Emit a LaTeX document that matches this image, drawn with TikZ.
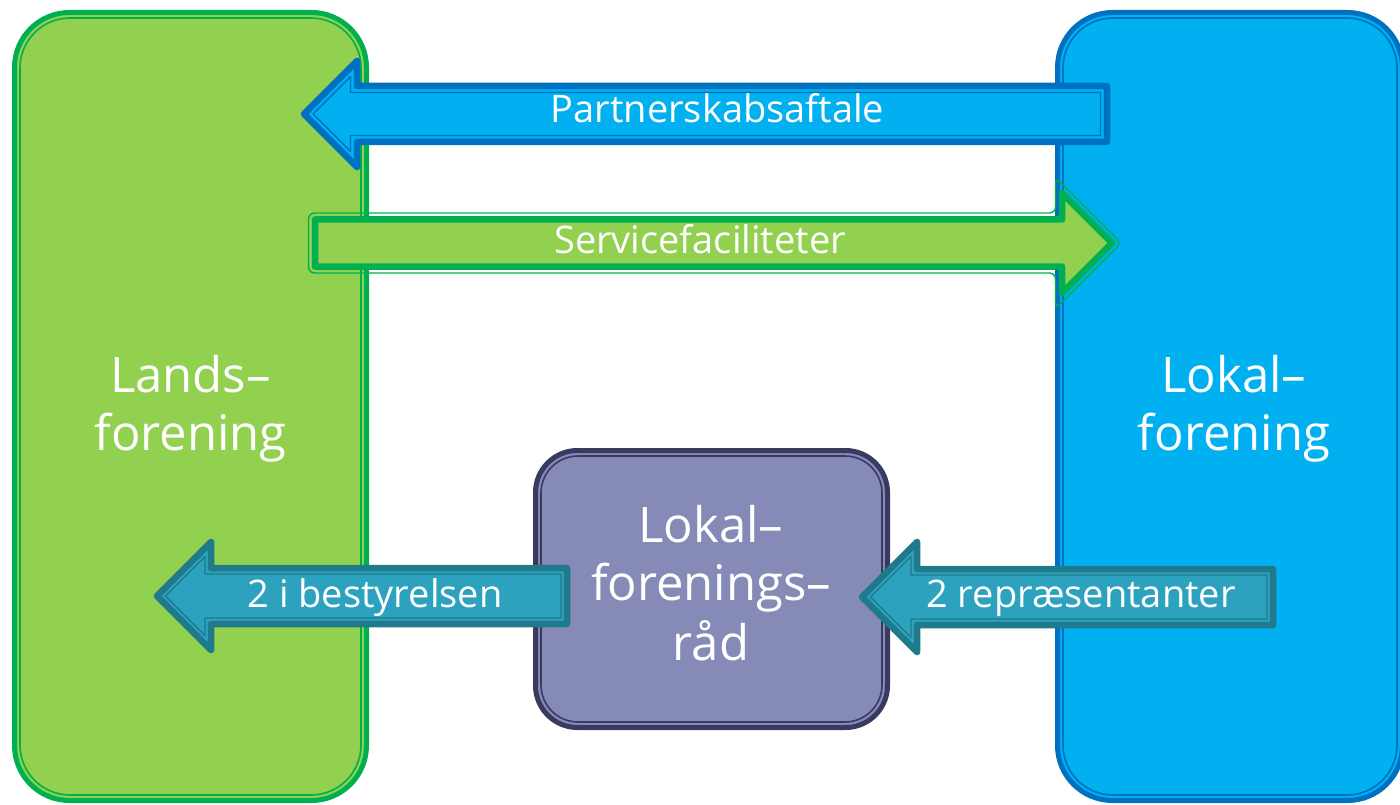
\documentclass[tikz,border=0pt]{standalone}
\usepackage{fontspec}
\setmainfont{Open Sans}
\definecolor{lgreen}{HTML}{92D050}
\definecolor{dgreen}{HTML}{00B050}
\definecolor{lblue}{HTML}{00B0F0}
\definecolor{dblue}{HTML}{0070C0}
\definecolor{lpurple}{HTML}{868AB7}
\definecolor{dpurple}{HTML}{383A60}
\definecolor{lteal}{HTML}{2DA2BF}
\definecolor{dteal}{HTML}{1F7A8C}
% left-pointing block arrow: style, tip x, head-back x, end x, centre y, shaft half height, inset
\newcommand{\LArr}[7]{%
\path[#1] ({#2+(#7)*1.41421},#5) -- ({#3-(#7)},{#5-(#3-#2)+(#7)*2.41421}) -- ({#3-(#7)},{#5-#6+(#7)}) -- ({#4-(#7)},{#5-#6+(#7)}) -- ({#4-(#7)},{#5+#6-(#7)}) -- ({#3-(#7)},{#5+#6-(#7)}) -- ({#3-(#7)},{#5+(#3-#2)-(#7)*2.41421}) -- cycle;}
% right-pointing block arrow: style, tip x, head-back x, start x, centre y, shaft half height, inset
\newcommand{\RArr}[7]{%
\path[#1] ({#2-(#7)*1.41421},#5) -- ({#3+(#7)},{#5-(#2-#3)+(#7)*2.41421}) -- ({#3+(#7)},{#5-#6+(#7)}) -- ({#4+(#7)},{#5-#6+(#7)}) -- ({#4+(#7)},{#5+#6-(#7)}) -- ({#3+(#7)},{#5+#6-(#7)}) -- ({#3+(#7)},{#5+(#2-#3)-(#7)*2.41421}) -- cycle;}
\begin{document}
\begin{tikzpicture}[x=1pt,y=-1pt,
  box/.style={rectangle, rounded corners=#1, line width=5pt, inner sep=0pt, outer sep=0pt},
  bigtxt/.style={text=white, anchor=base, inner sep=0pt, font=\fontsize{49}{58}\selectfont},
  lbl/.style={text=white, anchor=base, inner sep=0pt, font=\fontsize{38}{44}\selectfont},
  thickarr/.style={line width=6.5pt, line join=round},
  thinarr/.style={line width=1.4pt, line join=round}]
\useasboundingbox (0,0) rectangle (1400,805);
\fill[white] (0,0) rectangle (1400,805);
% boxes
\node[box=55pt, fill=lgreen, draw=dgreen, minimum width=352pt, minimum height=788pt] (lands) at (190.5,406.5) {};
\draw[dgreen, line width=1.6pt, rounded corners=50pt] ([shift={(5.5,5.5)}]lands.north west) rectangle ([shift={(-5.5,-5.5)}]lands.south east);
\node[box=55pt, fill=lblue, draw=dblue, minimum width=345pt, minimum height=788pt] (lokal) at (1230,406.5) {};
\draw[dblue, line width=1.6pt, rounded corners=50pt] ([shift={(5.5,5.5)}]lokal.north west) rectangle ([shift={(-5.5,-5.5)}]lokal.south east);
\node[box=42pt, fill=lpurple, draw=dpurple, minimum width=352pt, minimum height=277pt] (raad) at (711.5,589) {};
\draw[dpurple, line width=1.6pt, rounded corners=37pt] ([shift={(5.5,5.5)}]raad.north west) rectangle ([shift={(-5.5,-5.5)}]raad.south east);
% box texts
\node[bigtxt] (lands1) at (190.5,392) {Lands–};
\node[bigtxt] (lands2) at (190.5,450) {forening};
\node[bigtxt] (lokal1) at (1234,392) {Lokal–};
\node[bigtxt] (lokal2) at (1234,450) {forening};
\node[bigtxt] (raad1) at (711,542) {Lokal–};
\node[bigtxt] (raad2) at (711,600) {forenings–};
\node[bigtxt] (raad3) at (711,660) {råd};
% Partnerskabsaftale (blue, pointing left)
\LArr{fill=lblue, draw=dblue, thickarr}{304}{357}{1107}{114}{28}{0}
\LArr{draw=dblue, thinarr}{304}{357}{1107}{114}{28}{6.5}
\node[lbl] (pa) at (717.5,123) {Partnerskabsaftale};
% Servicefaciliteter (green, pointing right)
\RArr{draw=dgreen, thinarr, rounded corners=6pt}{1112}{1062}{315}{243}{23.5}{-6.5}
\RArr{fill=lgreen, draw=dgreen, thickarr}{1112}{1062}{315}{243}{23.5}{0}
\node[lbl] (sf) at (700,253) {Servicefaciliteter};
% 2 i bestyrelsen (teal, pointing left)
\LArr{fill=lteal, draw=dteal, thickarr}{157}{211}{567}{596}{28}{0}
\LArr{draw=dteal, thinarr}{157}{211}{567}{596}{28}{6}
\node[lbl] (best) at (375,607) {2 i bestyrelsen};
% 2 repraesentanter (teal, pointing left)
\LArr{fill=lteal, draw=dteal, thickarr}{862}{917}{1273}{597}{28}{0}
\LArr{draw=dteal, thinarr}{862}{917}{1273}{597}{28}{6}
\node[lbl] (rep) at (1081,607) {2 repræsentanter};
\end{tikzpicture}
\end{document}
